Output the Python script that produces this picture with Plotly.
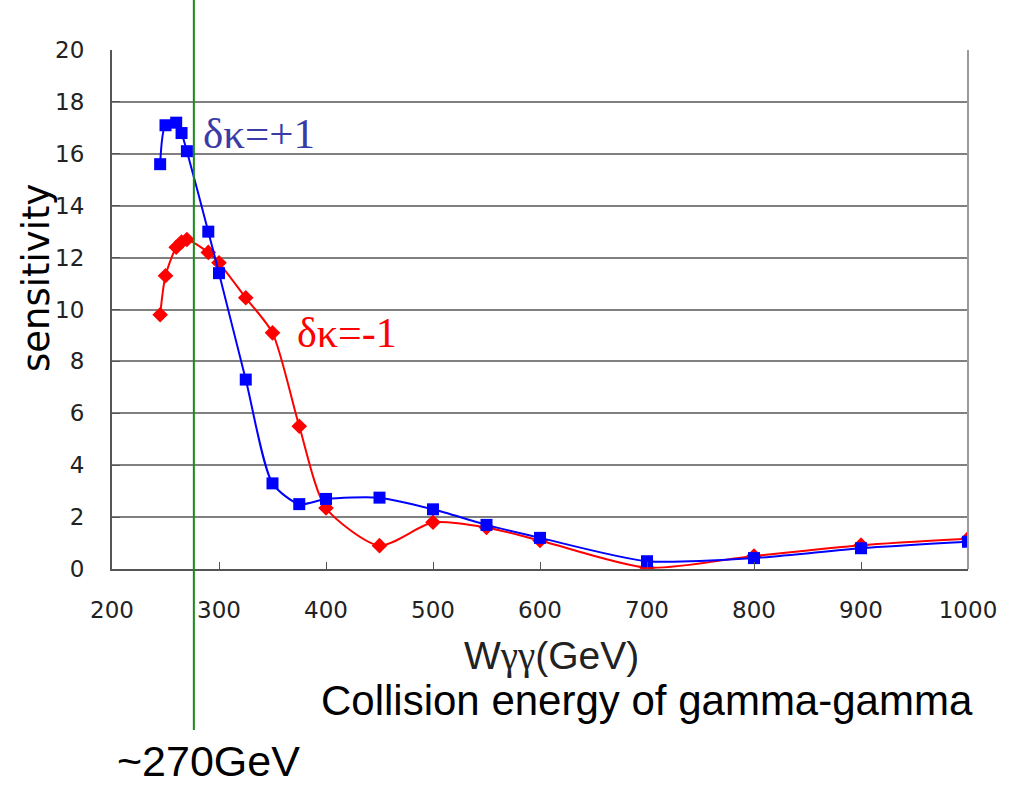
import plotly.graph_objects as go

# Collision energy W_gamma-gamma (GeV) and sensitivity for the two couplings
w_plus = [245, 250, 260, 265, 270, 290, 300, 325, 350, 375, 400, 450, 500, 550, 600, 700, 800, 900, 1000]
s_plus = [15.6, 17.1, 17.2, 16.8, 16.1, 13.0, 11.4, 7.3, 3.3, 2.5, 2.7, 2.75, 2.3, 1.7, 1.2, 0.3, 0.42, 0.8, 1.05]

w_minus = [245, 250, 260, 265, 270, 290, 300, 325, 350, 375, 400, 450, 500, 550, 600, 700, 800, 900, 1000]
s_minus = [9.8, 11.3, 12.4, 12.6, 12.7, 12.2, 11.8, 10.45, 9.1, 5.5, 2.35, 0.9, 1.8, 1.6, 1.1, 0.05, 0.5, 0.92, 1.17]

x_ticks = [200, 300, 400, 500, 600, 700, 800, 900, 1000]
y_ticks = [0, 2, 4, 6, 8, 10, 12, 14, 16, 18, 20]

marker_energy = 276.5  # vertical guide near the peak region

fig = go.Figure()

fig.add_trace(go.Scatter(
    x=w_minus, y=s_minus, mode="lines+markers",
    line=dict(color="#FF0000", width=2, shape="spline", smoothing=0.7),
    marker=dict(symbol="diamond", size=12, color="#FF0000"),
    showlegend=False,
))
fig.add_trace(go.Scatter(
    x=w_plus, y=s_plus, mode="lines+markers",
    line=dict(color="#0000FF", width=2, shape="spline", smoothing=0.7),
    marker=dict(symbol="square", size=12, color="#0000FF"),
    showlegend=False,
))

# right-hand border of the plotting area
fig.add_shape(type="line", xref="paper", yref="paper", x0=1, x1=1, y0=0, y1=1,
              line=dict(color="#9a9a9a", width=2))

# green guide line at ~270 GeV
fig.add_shape(type="line", xref="x", yref="paper", x0=marker_energy, x1=marker_energy,
              y0=-0.31, y1=1.1, line=dict(color="#1a8a1a", width=2), layer="above")


def px_x(p):
    return (p - 112) / (968 - 112)


def px_y(p):
    return (569 - p) / (569 - 50)


serif = "Liberation Serif"
sans = "Liberation Sans"
tick_family = "DejaVu Sans"


def label(text, cx, cy, size, color, family, angle=0):
    fig.add_annotation(text=text, x=px_x(cx), y=px_y(cy), xref="paper", yref="paper",
                       xanchor="center", yanchor="middle", showarrow=False,
                       textangle=angle, font=dict(family=family, size=size, color=color))


label("δκ=+1", 259, 133, 43, "#3b3ba8", serif)
label("δκ=-1", 347, 333, 42, "#FF0000", serif)
label('W<span style="font-family:Liberation Serif">γγ</span>(GeV)', 551, 656, 39, "#222222", sans)
label("Collision energy of gamma-gamma", 647, 700, 42, "#000000", sans)
label("~270GeV", 208, 761, 43, "#000000", sans)
label("sensitivity", 36, 278, 37, "#000000", "DejaVu Sans", angle=-90)

fig.update_layout(
    width=1015, height=789,
    margin=dict(l=112, r=47, t=50, b=220),
    paper_bgcolor="white", plot_bgcolor="white",
    font=dict(family=sans, size=23, color="#222222"),
    xaxis=dict(range=[200, 1000], tickvals=x_ticks, ticktext=[str(v) for v in x_ticks],
               tickfont=dict(family=tick_family, size=23, color="#222222"),
               showgrid=False, showline=True, linecolor="#555555", linewidth=2,
               ticks="inside", ticklen=7, tickcolor="#555555", tickwidth=1,
               ticklabelstandoff=19, zeroline=False),
    yaxis=dict(range=[0, 20], tickvals=y_ticks, ticktext=[str(v) for v in y_ticks],
               tickfont=dict(family=tick_family, size=23, color="#222222"),
               showgrid=True, gridcolor="#808080", gridwidth=2,
               showline=True, linecolor="#555555", linewidth=2,
               ticks="inside", ticklen=8, tickcolor="#555555", tickwidth=1,
               ticklabelstandoff=21, zeroline=False),
)

fig.write_html("out.html")
